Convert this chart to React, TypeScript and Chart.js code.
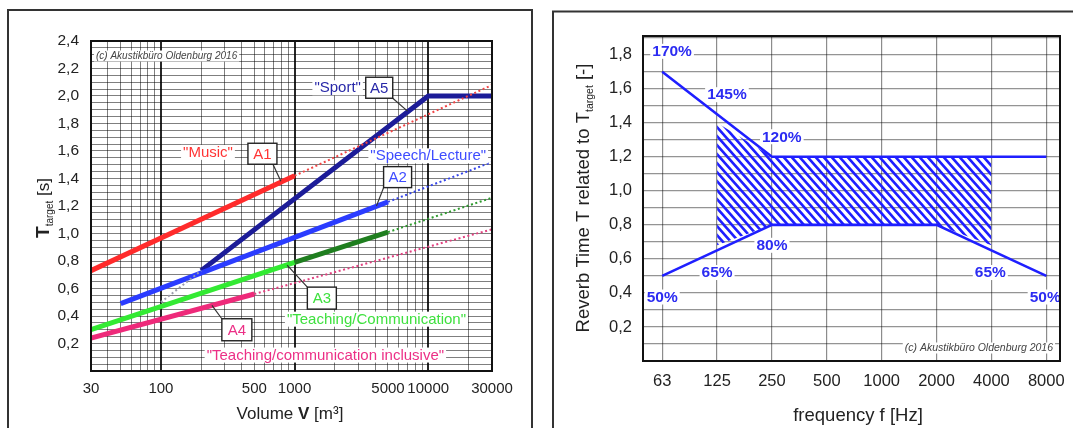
import React, { useEffect, useRef } from "react";
import { Chart, registerables } from "chart.js";

Chart.register(...registerables);

const FONT = "'Liberation Sans', Arial, Helvetica, sans-serif";

// ================= Left chart: T_target vs. room volume =================
const volumeTickLabels = [30, 100, 500, 1000, 5000, 10000, 30000];
const targetTickValues = [0.2, 0.4, 0.6, 0.8, 1.0, 1.2, 1.4, 1.6, 1.8, 2.0, 2.2, 2.4];
const targetTickLabels = ["0,2", "0,4", "0,6", "0,8", "1,0", "1,2", "1,4", "1,6", "1,8", "2,0", "2,2", "2,4"];

// A1 "Music"
const musicV = [30, 1000];
const musicT = [0.73, 1.42];
const musicExtV = [1000, 30000];
const musicExtT = [1.42, 2.08];
// A2 "Speech/Lecture"
const speechV = [50, 5000];
const speechT = [0.49, 1.23];
const speechExtV = [5000, 30000];
const speechExtT = [1.23, 1.52];
// A3 "Teaching/Communication"
const teachV = [30, 1000];
const teachT = [0.3, 0.79];
const teachLargeV = [1000, 5000];
const teachLargeT = [0.79, 1.01];
const teachExtV = [5000, 30000];
const teachExtT = [1.01, 1.26];
// A4 "Teaching/communication inclusive"
const inclV = [30, 500];
const inclT = [0.24, 0.56];
const inclExtV = [500, 30000];
const inclExtT = [0.56, 1.03];
// A5 "Sport"
const sportV = [200, 10000, 30000];
const sportT = [0.73, 2.0, 2.0];
const sportExtV = [100, 200];
const sportExtT = [0.5, 0.73];

// ================= Right chart: tolerance vs. frequency =================
const freqLabels = ["63", "125", "250", "500", "1000", "2000", "4000", "8000"];
const upperRatio = [1.7, 1.45, 1.2, 1.2, 1.2, 1.2, 1.2, 1.2];
const lowerRatio = [0.5, 0.65, 0.8, 0.8, 0.8, 0.8, 0.65, 0.5];
const hatchTopIdx = [1, 2, 6];
const hatchTopRatio = [1.4, 1.2, 1.2];
const hatchBottomIdx = [1, 2, 5, 6];
const hatchBottomRatio = [0.68, 0.8, 0.8, 0.68];
const ratioTickValues = [0.2, 0.4, 0.6, 0.8, 1.0, 1.2, 1.4, 1.6, 1.8];
const ratioTickLabels = ["0,2", "0,4", "0,6", "0,8", "1,0", "1,2", "1,4", "1,6", "1,8"];
const percentTexts = ["170%", "145%", "120%", "80%", "65%", "50%", "65%", "50%"];

// ---------------- colours ----------------
const RED = "#ff2b2b";
const BLUE = "#2b3cff";
const NAVY = "#1c1c98";
const GREEN = "#33ea33";
const DKGREEN = "#1f7e1f";
const PINK = "#ee2a7a";
const RBLUE = "#1f1fff";

const pts = (xs: number[], ys: number[]) => xs.map((x, i) => ({ x, y: ys[i] }));
const solid = (xs: number[], ys: number[], color: string, w = 5) => ({
  data: pts(xs, ys),
  borderColor: color,
  backgroundColor: color,
  borderWidth: w,
  pointRadius: 0,
  fill: false,
  tension: 0,
  borderCapStyle: "butt" as const,
});
const dotted = (xs: number[], ys: number[], color: string) => ({
  ...solid(xs, ys, color, 2),
  borderDash: [2, 2.6],
});

function textBg(ctx: CanvasRenderingContext2D, text: string, x: number, y: number, font: string, color: string, h: number, align: "center" | "right" | "left" = "center") {
  ctx.save();
  ctx.font = font;
  const w = ctx.measureText(text).width;
  let x0 = x - w / 2;
  if (align === "right") x0 = x - w;
  if (align === "left") x0 = x;
  ctx.fillStyle = "#fff";
  ctx.fillRect(x0 - 2, y - h / 2, w + 4, h);
  ctx.fillStyle = color;
  ctx.textAlign = "left";
  ctx.textBaseline = "middle";
  ctx.fillText(text, x0, y + 0.5);
  ctx.restore();
}

type Part = { text: string; font: string; dy?: number };
function richText(ctx: CanvasRenderingContext2D, parts: Part[], cx: number, cy: number, rotate: boolean, color: string) {
  ctx.save();
  ctx.translate(cx, cy);
  if (rotate) ctx.rotate(-Math.PI / 2);
  let total = 0;
  const ws = parts.map((p) => {
    ctx.font = p.font;
    const w = ctx.measureText(p.text).width;
    total += w;
    return w;
  });
  let x = -total / 2;
  ctx.fillStyle = color;
  ctx.textAlign = "left";
  ctx.textBaseline = "alphabetic";
  parts.forEach((p, i) => {
    ctx.font = p.font;
    ctx.fillText(p.text, x, 6 + (p.dy || 0));
    x += ws[i];
  });
  ctx.restore();
}

function buildLeft(canvas: HTMLCanvasElement) {
  const gridV: number[] = [];
  [10, 100, 1000, 10000].forEach((d) => {
    for (let m = 1; m <= 9; m++) {
      const v = m * d;
      if (v >= 30 && v <= 30000) gridV.push(v);
    }
  });
  const gridT: number[] = [];
  for (let i = 0; i <= 48; i++) gridT.push(Math.round(i * 5) / 100);
  const decades = [100, 1000, 10000];

  const notes = [
    { text: '"Music"', v: 225, t: 1.59, color: "#ff3434" },
    { text: '"Sport"', v: 2100, t: 2.06, color: "#2828a8" },
    { text: '"Speech/Lecture"', v: 10000, t: 1.565, color: "#3e4cff" },
    { text: '"Teaching/Communication"', v: 4100, t: 0.377, color: "#3ee03e" },
    { text: '"Teaching/communication inclusive"', v: 1700, t: 0.116, color: "#ec2f86" },
  ];
  const boxes = [
    { text: "A1", v: 575, t: 1.58, w: 29, h: 21, sx: 10.5, sy: 10.5, toV: 790, toT: 1.38, color: "#ff3434" },
    { text: "A5", v: 4300, t: 2.06, w: 27, h: 21, sx: 13.5, sy: 10.5, toV: 7000, toT: 1.89, color: "#2828a8" },
    { text: "A2", v: 5900, t: 1.41, w: 28, h: 21, sx: -14, sy: 10.5, toV: 4100, toT: 1.2, color: "#3e4cff" },
    { text: "A3", v: 1600, t: 0.53, w: 29, h: 22, sx: -14.5, sy: -11, toV: 880, toT: 0.77, color: "#3ee03e" },
    { text: "A4", v: 370, t: 0.3, w: 30, h: 22, sx: -15, sy: -11, toV: 241, toT: 0.478, color: "#ec2f86" },
  ];

  const deco = {
    id: "leftDeco",
    afterDatasetsDraw(chart: any) {
      const { ctx, chartArea: a, scales } = chart;
      const X = scales.x, Y = scales.y;
      textBg(ctx, "(c) Akustikbüro Oldenburg 2016", a.left + 5, a.top + 15, `italic 10px ${FONT}`, "#444", 11, "left");
      notes.forEach((n) => {
        textBg(ctx, n.text, X.getPixelForValue(n.v), Y.getPixelForValue(n.t), `15px ${FONT}`, n.color, 15);
      });
      boxes.forEach((b) => {
        const cx = X.getPixelForValue(b.v), cy = Y.getPixelForValue(b.t);
        ctx.save();
        ctx.strokeStyle = "#333";
        ctx.lineWidth = 1.2;
        ctx.beginPath();
        ctx.moveTo(cx + b.sx, cy + b.sy);
        ctx.lineTo(X.getPixelForValue(b.toV), Y.getPixelForValue(b.toT));
        ctx.stroke();
        ctx.fillStyle = "#fff";
        ctx.fillRect(cx - b.w / 2, cy - b.h / 2, b.w, b.h);
        ctx.lineWidth = 1.4;
        ctx.strokeStyle = "#222";
        ctx.strokeRect(cx - b.w / 2, cy - b.h / 2, b.w, b.h);
        ctx.fillStyle = b.color;
        ctx.font = `15px ${FONT}`;
        ctx.textAlign = "center";
        ctx.textBaseline = "middle";
        ctx.fillText(b.text, cx, cy + 1);
        ctx.restore();
      });
    },
    afterDraw(chart: any) {
      const { ctx, chartArea: a } = chart;
      ctx.save();
      ctx.strokeStyle = "#111";
      ctx.lineWidth = 2;
      ctx.strokeRect(a.left, a.top, a.right - a.left, a.bottom - a.top);
      ctx.strokeStyle = "#333";
      ctx.lineWidth = 2;
      ctx.beginPath();
      ctx.moveTo(8, 430);
      ctx.lineTo(8, 10);
      ctx.lineTo(532, 10);
      ctx.lineTo(532, 430);
      ctx.stroke();
      ctx.restore();
      richText(ctx, [
        { text: "T", font: `bold 19px ${FONT}` },
        { text: "target", font: `10px ${FONT}`, dy: 4 },
        { text: " [s]", font: `17px ${FONT}` },
      ], 43, 208, true, "#222");
      richText(ctx, [
        { text: "Volume ", font: `17px ${FONT}` },
        { text: "V", font: `bold 17px ${FONT}` },
        { text: " [m³]", font: `17px ${FONT}` },
      ], 290, 413, false, "#222");
    },
  };

  return new Chart(canvas, {
    type: "line",
    data: {
      datasets: [
        dotted(musicExtV, musicExtT, "#f04545"),
        dotted(speechExtV, speechExtT, "#3545e8"),
        dotted(teachExtV, teachExtT, "#2e9a2e"),
        dotted(inclExtV, inclExtT, "#e0407f"),
        dotted(sportExtV, sportExtT, "#9a9aaa"),
        solid(inclV, inclT, PINK),
        solid(teachV, teachT, GREEN),
        solid(teachLargeV, teachLargeT, DKGREEN),
        solid(speechV, speechT, BLUE),
        solid(musicV, musicT, RED),
        solid(sportV, sportT, NAVY),
      ] as any,
    },
    options: {
      responsive: false,
      maintainAspectRatio: false,
      animation: false,
      events: [],
      layout: { padding: { left: 0, right: 48, top: 41, bottom: 0 } },
      plugins: { legend: { display: false }, tooltip: { enabled: false } },
      scales: {
        x: {
          type: "logarithmic",
          min: 30,
          max: 30000,
          afterBuildTicks: (s: any) => {
            s.ticks = gridV.map((v) => ({ value: v }));
          },
          afterFit: (s: any) => {
            s.height = 57;
            s.paddingLeft = 0;
            s.paddingRight = 0;
          },
          ticks: {
            autoSkip: false,
            maxRotation: 0,
            minRotation: 0,
            padding: 9,
            color: "#222",
            font: { family: FONT, size: 15 },
            callback: (v: any) => (volumeTickLabels.includes(Number(v)) ? String(v) : ""),
          },
          grid: {
            drawTicks: false,
            color: (c: any) => (decades.includes(c.tick?.value) ? "rgba(0,0,0,0.85)" : "rgba(0,0,0,0.5)"),
            lineWidth: (c: any) => (decades.includes(c.tick?.value) ? 2 : 1),
          },
          border: { display: false },
        },
        y: {
          type: "linear",
          min: 0,
          max: 2.4,
          afterBuildTicks: (s: any) => {
            s.ticks = gridT.map((v) => ({ value: v }));
          },
          afterFit: (s: any) => {
            s.width = 91;
            s.paddingTop = 0;
            s.paddingBottom = 0;
          },
          ticks: {
            autoSkip: false,
            padding: 12,
            color: "#222",
            font: { family: FONT, size: 15.5 },
            callback: (v: any) => {
              const i = targetTickValues.findIndex((t) => Math.abs(t - Number(v)) < 1e-6);
              return i >= 0 ? targetTickLabels[i] : "";
            },
          },
          grid: { drawTicks: false, color: "rgba(0,0,0,0.5)", lineWidth: 1 },
          border: { display: false },
        },
      },
    } as any,
    plugins: [deco],
  });
}

function buildRight(canvas: HTMLCanvasElement) {
  const ctx0 = canvas.getContext("2d")!;
  const TW = 8, TH = 9;
  const pc = document.createElement("canvas");
  pc.width = TW;
  pc.height = TH;
  const g = pc.getContext("2d")!;
  g.strokeStyle = RBLUE;
  g.lineWidth = 2.6;
  g.beginPath();
  for (let k = -1; k <= 1; k++) {
    g.moveTo(k * TW - TW, -TH);
    g.lineTo(k * TW + 2 * TW, 2 * TH);
  }
  g.stroke();
  const pattern = ctx0.createPattern(pc, "repeat");

  const gridR: number[] = [];
  for (let i = 0; i <= 19; i++) gridR.push(i / 10);
  const gridX = freqLabels.map((_, i) => i);

  const pctPos = [
    { x: 0.18, y: 1.82 },
    { x: 1.18, y: 1.565 },
    { x: 2.18, y: 1.318 },
    { x: 2.0, y: 0.68 },
    { x: 1.0, y: 0.52 },
    { x: 0.0, y: 0.376 },
    { x: 5.98, y: 0.52 },
    { x: 6.98, y: 0.376 },
  ];

  const deco = {
    id: "rightDeco",
    afterDatasetsDraw(chart: any) {
      const { ctx, chartArea: a, scales } = chart;
      const X = scales.x, Y = scales.y;
      textBg(ctx, "(c) Akustikbüro Oldenburg 2016", a.right - 7, a.bottom - 13, `italic 10.5px ${FONT}`, "#444", 11, "right");
      percentTexts.forEach((t, i) => {
        textBg(ctx, t, X.getPixelForValue(pctPos[i].x), Y.getPixelForValue(pctPos[i].y), `bold 15.5px ${FONT}`, "#2c2cf2", 15);
      });
    },
    afterDraw(chart: any) {
      const { ctx, chartArea: a } = chart;
      ctx.save();
      ctx.strokeStyle = "#111";
      ctx.lineWidth = 2;
      ctx.strokeRect(a.left, a.top, a.right - a.left, a.bottom - a.top);
      ctx.strokeStyle = "#333";
      ctx.beginPath();
      ctx.moveTo(13, 430);
      ctx.lineTo(13, 11.5);
      ctx.lineTo(540, 11.5);
      ctx.stroke();
      ctx.restore();
      richText(ctx, [
        { text: "Reverb Time T related to T", font: `18.5px ${FONT}` },
        { text: "target", font: `10.5px ${FONT}`, dy: 4 },
        { text: " [-]", font: `18.5px ${FONT}` },
      ], 43, 198, true, "#222");
      richText(ctx, [{ text: "frequency f [Hz]", font: `18.5px ${FONT}` }], 318, 415, false, "#222");
    },
  };

  return new Chart(canvas, {
    type: "line",
    data: {
      datasets: [
        {
          data: pts(hatchTopIdx, hatchTopRatio),
          borderColor: "rgba(0,0,0,0)",
          borderWidth: 1,
          pointRadius: 0,
          fill: "+1",
          backgroundColor: pattern,
          tension: 0,
        },
        {
          data: pts(hatchBottomIdx, hatchBottomRatio),
          borderColor: "rgba(0,0,0,0)",
          borderWidth: 1,
          pointRadius: 0,
          fill: false,
          tension: 0,
        },
        solid(gridX, upperRatio, RBLUE, 2.6),
        solid(gridX, lowerRatio, RBLUE, 2.6),
      ] as any,
    },
    options: {
      responsive: false,
      maintainAspectRatio: false,
      animation: false,
      events: [],
      layout: { padding: { left: 0, right: 13, top: 36, bottom: 0 } },
      plugins: { legend: { display: false }, tooltip: { enabled: false } },
      scales: {
        x: {
          type: "linear",
          min: -0.35,
          max: 7.25,
          afterBuildTicks: (s: any) => {
            s.ticks = gridX.map((v) => ({ value: v }));
          },
          afterFit: (s: any) => {
            s.height = 67;
            s.paddingLeft = 0;
            s.paddingRight = 0;
          },
          ticks: {
            autoSkip: false,
            maxRotation: 0,
            minRotation: 0,
            padding: 11,
            color: "#222",
            font: { family: FONT, size: 16.5 },
            callback: (v: any) => freqLabels[Math.round(Number(v))] ?? "",
          },
          grid: { drawTicks: false, color: "rgba(0,0,0,0.45)", lineWidth: 1.2 },
          border: { display: false },
        },
        y: {
          type: "linear",
          min: 0,
          max: 1.91,
          afterBuildTicks: (s: any) => {
            s.ticks = gridR.map((v) => ({ value: v }));
          },
          afterFit: (s: any) => {
            s.width = 103;
            s.paddingTop = 0;
            s.paddingBottom = 0;
          },
          ticks: {
            autoSkip: false,
            padding: 11,
            color: "#222",
            font: { family: FONT, size: 16.5 },
            callback: (v: any) => {
              const i = ratioTickValues.findIndex((t) => Math.abs(t - Number(v)) < 1e-6);
              return i >= 0 ? ratioTickLabels[i] : "";
            },
          },
          grid: { drawTicks: false, color: "rgba(0,0,0,0.42)", lineWidth: 1.2 },
          border: { display: false },
        },
      },
    } as any,
    plugins: [deco],
  });
}

function ChartCanvas({ width, height, left, build }: { width: number; height: number; left: number; build: (c: HTMLCanvasElement) => Chart }) {
  const ref = useRef<HTMLCanvasElement | null>(null);
  useEffect(() => {
    if (!ref.current) return;
    const chart = build(ref.current);
    return () => chart.destroy();
  }, [build]);
  return (
    <canvas
      ref={ref}
      width={width}
      height={height}
      style={{ position: "absolute", left, top: 0, width, height }}
    />
  );
}

export default function App() {
  return (
    <div style={{ position: "absolute", left: 0, top: 0, width: 1073, height: 428, background: "#fff", overflow: "hidden" }}>
      <ChartCanvas width={540} height={428} left={0} build={buildLeft} />
      <ChartCanvas width={533} height={428} left={540} build={buildRight} />
    </div>
  );
}
